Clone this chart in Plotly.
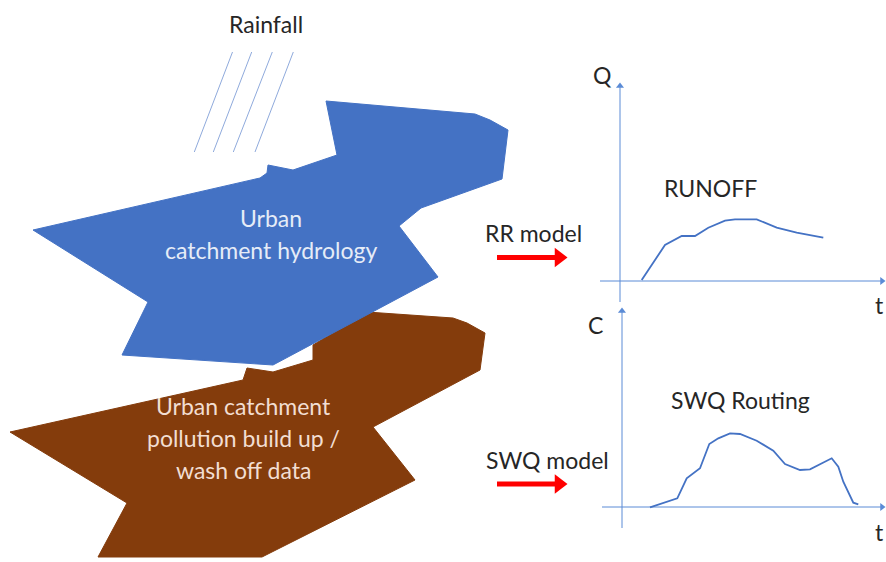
import plotly.graph_objects as go

# ---- data (pixel-space coordinates of the diagram, y grows downward) ----
blue_x = [33, 260, 267, 268, 293, 337, 326, 475, 490, 508, 502, 421, 399, 438, 273, 122, 148, 33]
blue_y = [230, 178, 173, 165, 170, 155, 101, 114, 120, 130, 179, 208, 226, 277, 365, 355, 302, 230]

brown_x = [10, 243, 247, 273, 313, 313, 367, 453, 467, 485, 480, 373, 415, 262, 98, 127, 10]
brown_y = [432, 380, 368, 372, 360, 345, 312, 318, 323, 333, 370, 427, 480, 557, 557, 503, 432]

rain_x0 = [232.5, 251.7, 272.3, 293.3]
rain_x1 = [194.3, 213.3, 233.3, 255.0]
rain_y0 = 52
rain_y1 = 152

runoff_x = [641.7, 665, 681.7, 695, 708.3, 725, 735, 756.7, 776.7, 796.7, 823.3]
runoff_y = [280, 245, 236, 236, 227.7, 220.7, 219.3, 219.3, 227.7, 232.7, 237.7]

swq_x = [650, 677.3, 686.7, 700, 709.3, 718.3, 730, 740, 756.7, 773.3, 785, 800, 810, 831.7, 838.3, 843.3, 853.3, 858.3]
swq_y = [507.3, 498.3, 478.3, 468.3, 444, 438.3, 433.3, 434, 440.7, 450.7, 464, 470, 469.3, 458.3, 466.7, 481.7, 502.7, 504.3]

# axes: (vertical x, vertical top, vertical bottom, horizontal y, horizontal left, horizontal right)
q_axis = dict(vx=620, vtop=83, vbot=302, hy=281, hleft=600, hright=885)
c_axis = dict(vx=622, vtop=308, vbot=528, hy=507, hleft=602, hright=885)

arrow_rows = [257.5, 484]
arrow_x0, arrow_x1 = 497, 556

BLUE = "#4472C4"
BROWN = "#843C0C"
AXIS = "#5B8BD6"
TXT = "#262626"
FONT = "Lato"

fig = go.Figure()

# brown shape (behind), blue shape on top
fig.add_trace(go.Scatter(x=brown_x, y=brown_y, fill="toself", fillcolor=BROWN,
                         mode="lines", line=dict(color=BROWN, width=1), hoverinfo="skip"))
fig.add_trace(go.Scatter(x=blue_x, y=blue_y, fill="toself", fillcolor=BLUE,
                         mode="lines", line=dict(color=BLUE, width=1), hoverinfo="skip"))

# rain lines
for a, b in zip(rain_x0, rain_x1):
    fig.add_trace(go.Scatter(x=[a, b], y=[rain_y0, rain_y1], mode="lines",
                             line=dict(color="#8FAADC", width=1), hoverinfo="skip"))

# axes of both small graphs
for ax in (q_axis, c_axis):
    fig.add_trace(go.Scatter(x=[ax["vx"], ax["vx"]], y=[ax["vbot"], ax["vtop"] + 4], mode="lines",
                             line=dict(color=AXIS, width=1), hoverinfo="skip"))
    fig.add_trace(go.Scatter(x=[ax["hleft"], ax["hright"] - 4], y=[ax["hy"], ax["hy"]], mode="lines",
                             line=dict(color=AXIS, width=1), hoverinfo="skip"))
    fig.add_trace(go.Scatter(x=[ax["vx"]], y=[ax["vtop"] + 3], mode="markers",
                             marker=dict(symbol="triangle-up", size=7, color=AXIS), hoverinfo="skip"))
    fig.add_trace(go.Scatter(x=[ax["hright"] - 3], y=[ax["hy"]], mode="markers",
                             marker=dict(symbol="triangle-right", size=7, color=AXIS), hoverinfo="skip"))

# curves
fig.add_trace(go.Scatter(x=runoff_x, y=runoff_y, mode="lines",
                         line=dict(color=BLUE, width=1.8), hoverinfo="skip"))
fig.add_trace(go.Scatter(x=swq_x, y=swq_y, mode="lines",
                         line=dict(color=BLUE, width=1.8), hoverinfo="skip"))

# red arrows
for yy in arrow_rows:
    fig.add_trace(go.Scatter(x=[arrow_x0, arrow_x1], y=[yy, yy], mode="lines",
                             line=dict(color="#FF0000", width=5), hoverinfo="skip"))
    fig.add_trace(go.Scatter(x=[arrow_x1 + 3], y=[yy], mode="markers",
                             marker=dict(symbol="triangle-right", size=17, color="#FF0000"),
                             hoverinfo="skip"))

labels = [
    ("Rainfall", 266, 24, TXT),
    ("Urban", 271, 218, "#E6ECF7"),
    ("catchment hydrology", 271, 250, "#E6ECF7"),
    ("Urban catchment", 243, 406, "#F2DED2"),
    ("pollution build up /", 243, 438, "#F2DED2"),
    ("wash off data", 243, 470, "#F2DED2"),
    ("RR model", 533, 233, TXT),
    ("SWQ model", 547, 460, TXT),
    ("Q", 602, 75, TXT),
    ("RUNOFF", 710, 188, TXT),
    ("t", 879, 305, TXT),
    ("C", 595, 325, TXT),
    ("SWQ Routing", 740, 400, TXT),
    ("t", 879, 532, TXT),
]
for txt, x, y, col in labels:
    fig.add_annotation(x=x, y=y, xref="x", yref="y", text=txt, showarrow=False,
                       font=dict(family=FONT, size=23, color=col),
                       xanchor="center", yanchor="middle")

fig.update_layout(
    width=886, height=562, margin=dict(l=0, r=0, t=0, b=0),
    paper_bgcolor="white", plot_bgcolor="white", showlegend=False,
    xaxis=dict(range=[0, 886], visible=False, fixedrange=True),
    yaxis=dict(range=[562, 0], visible=False, fixedrange=True),
)

fig.write_html("out.html", config={"displayModeBar": False},
               post_script="document.body.style.margin='0';document.body.style.overflow='hidden';")
